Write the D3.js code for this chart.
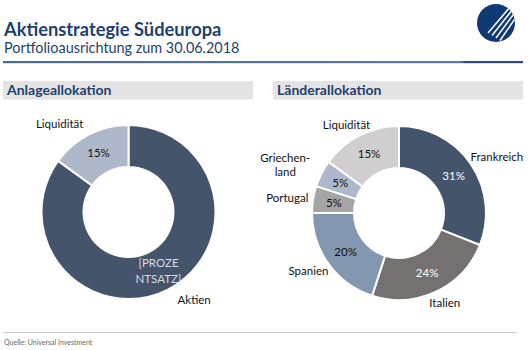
<!DOCTYPE html>
<html>
<head>
<meta charset="utf-8">
<script src="https://cdn.jsdelivr.net/npm/d3@7"></script>
<style>
  body { margin: 0; background: #fff; }
  text { font-family: Lato, "Open Sans", sans-serif; }
</style>
</head>
<body>
<div id="chart"></div>
<script>
// Anlageallokation
const assetCategories = ["Aktien", "Liquidität"];
const assetValues = [85, 15];
const assetValueLabels = ["[PROZE\nNTSATZ]", "15%"];

// Länderallokation
const countryCategories = ["Frankreich", "Italien", "Spanien", "Portugal", "Griechen-\nland", "Liquidität"];
const countryValues = [31, 24, 20, 5, 5, 15];

const W = 532, H = 350;
const navy = "#1f3f6e";

const svg = d3.select("#chart").append("svg")
    .attr("width", W)
    .attr("height", H);

// header
svg.append("text")
    .attr("x", 4).attr("y", 36)
    .style("font-size", "18.3px").style("font-weight", "bold")
    .attr("fill", navy)
    .text("Aktienstrategie Südeuropa");

svg.append("text")
    .attr("x", 4).attr("y", 53)
    .style("font-size", "14.4px")
    .attr("fill", navy)
    .text("Portfolioausrichtung zum 30.06.2018");

const grad = svg.append("defs").append("linearGradient").attr("id", "hline");
grad.append("stop").attr("offset", "0%").attr("stop-color", "#4d6a8f");
grad.append("stop").attr("offset", "88%").attr("stop-color", "#5d7aa0");
grad.append("stop").attr("offset", "89%").attr("stop-color", "#2f4a74");
grad.append("stop").attr("offset", "100%").attr("stop-color", "#2f4a74");

svg.append("rect")
    .attr("x", 3).attr("y", 61).attr("width", 520).attr("height", 2.2)
    .attr("fill", "url(#hline)");

// logo
const logo = svg.append("g").attr("transform", "translate(496,23)");
logo.append("circle").attr("r", 19).attr("fill", "#0f3a73");
logo.append("clipPath").attr("id", "logoclip")
    .append("circle").attr("r", 19);
const stripes = logo.append("g").attr("clip-path", "url(#logoclip)");
[0, 1, 2, 3].forEach(i => {
    stripes.append("line")
        .attr("x1", -8 + i * 4).attr("y1", 10 + i * 2.5)
        .attr("x2", 14 + i * 3).attr("y2", -16 + i * 2)
        .attr("stroke", "#fff").attr("stroke-width", 1.5);
});

// footer
svg.append("line")
    .attr("x1", 3).attr("x2", 517).attr("y1", 332.5).attr("y2", 332.5)
    .attr("stroke", "#cfcfcf").attr("stroke-width", 1);

svg.append("text")
    .attr("x", 4).attr("y", 345)
    .style("font-size", "7px")
    .attr("fill", "#666")
    .text("Quelle: Universal Investment");

// section header bars
function sectionHeader(x, title) {
    svg.append("rect")
        .attr("x", x).attr("y", 81).attr("width", 250).attr("height", 18.5)
        .attr("fill", "#e4e4e4");
    svg.append("text")
        .attr("x", x + 4).attr("y", 95)
        .style("font-size", "14px").style("font-weight", "bold")
        .attr("fill", navy)
        .text(title);
}
sectionHeader(3, "Anlageallokation");
sectionHeader(273, "Länderallokation");

// donut
function donut(cx, cy, categories, values, colors, valueLabels, valueColors, labelRx, labelRy) {
    const rOuter = 87, rInner = 45;
    const pie = d3.pie().sort(null).value(d => d.value);
    const data = pie(categories.map((c, i) => ({ cat: c, value: values[i], i: i })));
    const arc = d3.arc().innerRadius(rInner).outerRadius(rOuter);
    const color = d3.scaleOrdinal().domain(categories).range(colors);

    const g = svg.append("g").attr("transform", `translate(${cx},${cy})`);

    g.selectAll("path")
        .data(data)
        .join("path")
        .attr("d", arc)
        .attr("fill", d => color(d.data.cat))
        .attr("stroke", "#fff")
        .attr("stroke-width", 2);

    // value labels
    const vl = g.selectAll("text.val")
        .data(data)
        .join("text")
        .attr("class", "val")
        .attr("text-anchor", "middle")
        .style("font-size", "11.5px")
        .attr("fill", d => valueColors[d.index]);
    vl.each(function(d) {
        const c = arc.centroid(d);
        const lines = valueLabels[d.index].split("\n");
        d3.select(this).selectAll("tspan")
            .data(lines)
            .join("tspan")
            .attr("x", c[0])
            .attr("y", (l, j) => c[1] + 4 + (j - (lines.length - 1) / 2) * 16)
            .text(l => l);
    });

    // category labels outside
    data.forEach(d => {
        const a = (d.startAngle + d.endAngle) / 2;
        const lines = d.data.cat.split("\n");
        const t = g.append("text")
            .attr("text-anchor", "middle")
            .style("font-size", "11.5px")
            .attr("fill", "#111");
        t.selectAll("tspan").data(lines).join("tspan").text(l => l);
        const w = t.node().getBBox().width;
        const h = lines.length * 14;
        const x = Math.sin(a) * (labelRx + w / 2);
        const y = -Math.cos(a) * (labelRy + h / 2);
        t.selectAll("tspan")
            .attr("x", x)
            .attr("y", (l, j) => y + 4 + (j - (lines.length - 1) / 2) * 14);
    });
}

donut(128.5, 212, assetCategories, assetValues,
    ["#44546a", "#adb9ca"],
    assetValueLabels,
    ["#d6dce4", "#111"], 128, 92);

donut(399, 213, countryCategories, countryValues,
    ["#44546a", "#767171", "#8497b0", "#a5a5a5", "#adb9ca", "#d0cece"],
    countryValues.map(v => v + "%"),
    ["#fff", "#fff", "#111", "#111", "#111", "#111"], 92, 92);
</script>
</body>
</html>
